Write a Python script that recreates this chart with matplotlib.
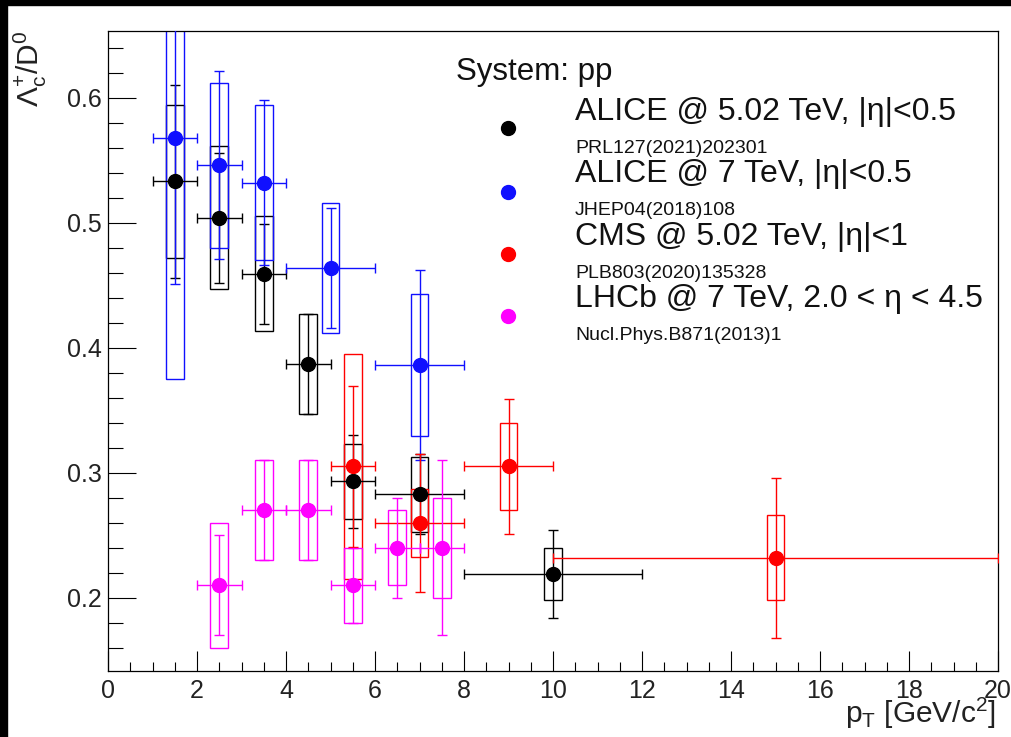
import matplotlib
matplotlib.use("Agg")
import matplotlib.pyplot as plt
from matplotlib.patches import Rectangle
from matplotlib.ticker import MultipleLocator

plt.rcParams['font.family'] = ['Liberation Sans', 'DejaVu Sans']
plt.rcParams['mathtext.fontset'] = 'custom'
plt.rcParams['mathtext.rm'] = 'Liberation Sans'
plt.rcParams['mathtext.it'] = 'Liberation Sans'

# ALICE pp 5.02 TeV
alice5_x = [1.5, 2.5, 3.5, 4.5, 5.5, 7.0, 10.0]
alice5_xlo = [1, 2, 3, 4, 5, 6, 8]
alice5_xhi = [2, 3, 4, 5, 6, 8, 12]
alice5_y = [0.533, 0.504, 0.459, 0.387, 0.293, 0.283, 0.219]
alice5_stat = [0.077, 0.052, 0.040, 0.040, 0.037, 0.032, 0.035]
alice5_syst = [0.061, 0.057, 0.046, 0.040, 0.030, 0.030, 0.021]

# ALICE pp 7 TeV
alice7_x = [1.5, 2.5, 3.5, 5.0, 7.0]
alice7_xlo = [1, 2, 3, 4, 6]
alice7_xhi = [2, 3, 4, 6, 8]
alice7_y = [0.568, 0.546, 0.532, 0.464, 0.386]
alice7_stat = [0.117, 0.075, 0.066, 0.048, 0.076]
alice7_syst = [0.193, 0.066, 0.062, 0.052, 0.057]

# CMS pp 5.02 TeV
cms_x = [5.5, 7.0, 9.0, 15.0]
cms_xlo = [5, 6, 8, 10]
cms_xhi = [6, 8, 10, 20]
cms_y = [0.305, 0.260, 0.305, 0.232]
cms_stat = [0.064, 0.055, 0.054, 0.064]
cms_syst = [0.090, 0.027, 0.035, 0.034]

# LHCb pp 7 TeV
lhcb_x = [2.5, 3.5, 4.5, 5.5, 6.5, 7.5]
lhcb_xlo = [2, 3, 4, 5, 6, 7]
lhcb_xhi = [3, 4, 5, 6, 7, 8]
lhcb_y = [0.21, 0.27, 0.27, 0.21, 0.24, 0.24]
lhcb_stat = [0.04, 0.04, 0.04, 0.03, 0.04, 0.07]
lhcb_syst = [0.05, 0.04, 0.04, 0.03, 0.03, 0.04]

series = [
    (alice5_x, alice5_xlo, alice5_xhi, alice5_y, alice5_stat, alice5_syst, 'black',
     'ALICE @ 5.02 TeV, |η|<0.5', 'PRL127(2021)202301'),
    (alice7_x, alice7_xlo, alice7_xhi, alice7_y, alice7_stat, alice7_syst, '#1010ff',
     'ALICE @ 7 TeV, |η|<0.5', 'JHEP04(2018)108'),
    (cms_x, cms_xlo, cms_xhi, cms_y, cms_stat, cms_syst, '#ff0000',
     'CMS @ 5.02 TeV, |η|<1', 'PLB803(2020)135328'),
    (lhcb_x, lhcb_xlo, lhcb_xhi, lhcb_y, lhcb_stat, lhcb_syst, '#ff00ff',
     'LHCb @ 7 TeV, 2.0 < η < 4.5', 'Nucl.Phys.B871(2013)1'),
]

W, H = 1011, 737
fig = plt.figure(figsize=(W / 100, H / 100), dpi=100)
ax = fig.add_axes([108 / W, 1 - 671 / H, 890 / W, 640 / H])

box_hw = 0.2
for x, xlo, xhi, y, stat, syst, col, lab, ref in series:
    xerr = [[xi - lo for xi, lo in zip(x, xlo)], [hi - xi for xi, hi in zip(x, xhi)]]
    ax.errorbar(x, y, yerr=stat, xerr=xerr, fmt='o', color=col, ms=10,
                elinewidth=1, capsize=3.5, capthick=1, zorder=3)
    for xi, yi, s in zip(x, y, syst):
        ax.add_patch(Rectangle((xi - box_hw, yi - s), 2 * box_hw, 2 * s,
                               fill=False, edgecolor=col, lw=1, zorder=2))

ax.set_xlim(0, 20)
ax.set_ylim(0.1414, 0.6534)
ax.xaxis.set_major_locator(MultipleLocator(2))
ax.xaxis.set_minor_locator(MultipleLocator(0.5))
ax.yaxis.set_major_locator(MultipleLocator(0.1))
ax.yaxis.set_minor_locator(MultipleLocator(0.02))
ax.tick_params(axis='both', which='both', direction='in', top=False, right=False,
               width=0.8, labelsize=18, labelcolor='#222222')
ax.tick_params(axis='y', which='major', length=20, pad=4.5)
ax.tick_params(axis='y', which='minor', length=10.8)
ax.tick_params(axis='x', which='major', length=14.4, pad=6)
ax.tick_params(axis='x', which='minor', length=6.7)
ax.set_yticks([0.2, 0.3, 0.4, 0.5, 0.6])
ax.set_yticklabels(['0.2', '0.3', '0.4', '0.5', '0.6'])
for sp in ax.spines.values():
    sp.set_linewidth(0.9)

# legend block
ax.text(0.391, 0.9234, 'System: pp', transform=ax.transAxes, fontsize=22.5,
        va='baseline', ha='left', color='#111111')
dot_y = [0.8484, 0.748, 0.6516, 0.5547]
name_y = [0.861, 0.764, 0.6656, 0.569]
ref_y = [0.8094, 0.7125, 0.614, 0.517]
for s, dy, ny, ry in zip(series, dot_y, name_y, ref_y):
    ax.plot([0.4494], [dy], 'o', color=s[6], ms=10, transform=ax.transAxes, clip_on=False)
    ax.text(0.5247, ny, s[7], transform=ax.transAxes, fontsize=23,
            va='baseline', ha='left', color='#111111')
    ax.text(0.5247, ry, s[8], transform=ax.transAxes, fontsize=14,
            va='baseline', ha='left', color='#111111')

fig.text(30 / W, 1 - 31 / H, r'$\mathrm{\Lambda_{c}^{+}/D^{0}}$', rotation=90,
         ha='center', va='top', fontsize=21.5, color='#222222')
fig.text(996 / W, 1 - 723 / H, r'$\mathrm{p_{T}}$ [GeV/c$^{2}$]', ha='right',
         va='baseline', fontsize=21.5, color='#222222')

# black screenshot border on top and left
fig.patches.append(Rectangle((0, 1 - 5 / H), 1, 5 / H, transform=fig.transFigure,
                             color='black', zorder=10))
fig.patches.append(Rectangle((0, 0), 7 / W, 1, transform=fig.transFigure,
                             color='black', zorder=10))

fig.savefig('out.png', dpi=100)
